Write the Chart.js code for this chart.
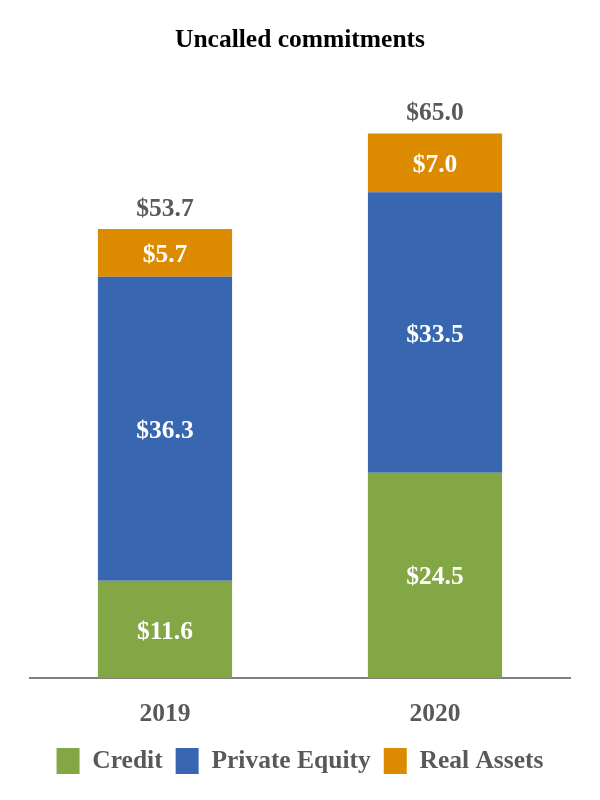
<!DOCTYPE html>
<html>
<head>
<meta charset="utf-8">
<script src="https://cdn.jsdelivr.net/npm/chart.js@4/dist/chart.umd.min.js"></script>
<style>
  body { margin: 0; background: #fff; }
  #wrap { width: 600px; height: 800px; position: relative; }
</style>
</head>
<body>
<div id="wrap"><canvas id="chart"></canvas></div>
<script>
// ====================
// Data
// ====================
const categories = ["2019", "2020"];
const credit = [11.6, 24.5];
const privateEquity = [36.3, 33.5];
const realAssets = [5.7, 7.0];
const totals = [53.7, 65.0];

const FONT = '"Liberation Serif", "Times New Roman", serif';
const GREY = "#595959";

// ====================
// Value labels (segments + totals)
// ====================
const valueLabels = {
    id: "valueLabels",
    afterDatasetsDraw(chart) {
        const ctx = chart.ctx;
        ctx.save();
        ctx.font = "bold 25.5px " + FONT;
        ctx.textAlign = "center";
        chart.data.datasets.forEach((ds, di) => {
            const meta = chart.getDatasetMeta(di);
            meta.data.forEach((bar, i) => {
                ctx.fillStyle = "#ffffff";
                ctx.textBaseline = "middle";
                ctx.fillText("$" + ds.data[i].toFixed(1), bar.x, (bar.y + bar.base) / 2 + 2.5);
            });
        });
        const topMeta = chart.getDatasetMeta(chart.data.datasets.length - 1);
        ctx.fillStyle = GREY;
        ctx.textBaseline = "alphabetic";
        topMeta.data.forEach((bar, i) => {
            ctx.fillText("$" + totals[i].toFixed(1), bar.x, bar.y - 13);
        });
        ctx.restore();
    }
};

// ====================
// Chart
// ====================
new Chart(document.getElementById("chart"), {
    type: "bar",
    data: {
        labels: categories,
        datasets: [
            { label: "Credit", data: credit, backgroundColor: "#84a745" },
            { label: "Private Equity", data: privateEquity, backgroundColor: "#3966b0" },
            { label: "Real Assets", data: realAssets, backgroundColor: "#dc8a00" }
        ]
    },
    options: {
        responsive: true,
        maintainAspectRatio: false,
        animation: false,
        layout: { padding: { left: 30, right: 30, top: 0, bottom: 16 } },
        datasets: { bar: { barPercentage: 0.497, categoryPercentage: 1, borderWidth: 0 } },
        plugins: {
            tooltip: { enabled: false },
            title: {
                display: true,
                text: "Uncalled commitments",
                color: "#000",
                font: { family: FONT, size: 25.5, weight: "bold" },
                padding: { top: 25, bottom: 36 }
            },
            legend: {
                position: "bottom",
                labels: {
                    color: GREY,
                    font: { family: FONT, size: 25.5, weight: "bold" },
                    boxWidth: 23,
                    boxHeight: 26,
                    padding: 13
                }
            }
        },
        scales: {
            x: {
                stacked: true,
                grid: { display: false, drawTicks: false },
                border: { display: true, color: "#808080", width: 2 },
                ticks: {
                    color: GREY,
                    padding: 21,
                    font: { family: FONT, size: 25.5, weight: "bold" }
                },
                afterFit: (scale) => { scale.height -= 15.6; }
            },
            y: {
                stacked: true,
                display: false,
                min: 0,
                max: 70
            }
        }
    },
    plugins: [valueLabels]
});
</script>
</body>
</html>
